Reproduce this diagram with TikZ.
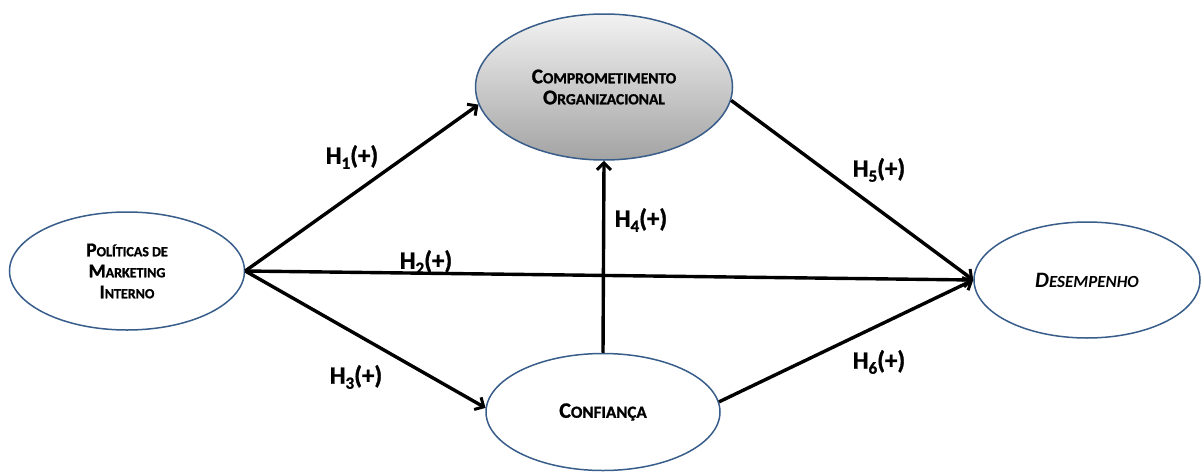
\documentclass[tikz,border=0pt]{standalone}
\usepackage{fontspec}
\setmainfont{Carlito}[BoldFeatures={FakeBold=1.2}]
\usetikzlibrary{shapes.geometric,arrows.meta}

% fake small caps: a tall initial followed by smaller capitals
\newcommand\capinit[2]{{\fontsize{#1}{#1}\selectfont #2}}
% hypothesis label with a lowered index
\newcommand\hyp[1]{H\raisebox{-5pt}{\fontsize{17}{17}\selectfont #1}(+)}

\definecolor{rimblue}{RGB}{56,93,138}

\tikzset{
  construct/.style={ellipse, draw=rimblue, line width=1.5pt, fill=white,
    font=\bfseries\fontsize{15.5}{21}\selectfont, align=center, inner sep=0pt},
  path/.style={line width=3.4pt, draw=black,
    -{Straight Barb[length=7pt,width=14pt,line width=3pt]}},
  hlabel/.style={font=\bfseries\fontsize{25}{25}\selectfont, inner sep=0pt}
}

\begin{document}
\begin{tikzpicture}[x=1pt,y=-1pt]
  \useasboundingbox (0,0) rectangle (1204,471);

  % constructs
  \node[construct, minimum width=257pt, minimum height=146pt,
        top color=black!5, bottom color=black!36, draw=rimblue]
    (comp) at (604,87) {\capinit{21}{C}OMPROMETIMENTO\\\capinit{21}{O}RGANIZACIONAL};
  \node[construct, minimum width=235pt, minimum height=118pt,
        font=\bfseries\fontsize{14}{21}\selectfont]
    (pol) at (127,271) {\capinit{19.5}{P}OLÍTICAS DE\\\capinit{19.5}{M}ARKETING\\\capinit{19.5}{I}NTERNO};
  \node[construct, minimum width=226pt, minimum height=116pt,
        font=\bfseries\itshape\fontsize{17}{22}\selectfont]
    (des) at (1087,280) {\capinit{22}{D}ESEMPENHO};
  \node[construct, minimum width=234pt, minimum height=117pt,
        font=\bfseries\fontsize{17}{22}\selectfont]
    (conf) at (603,412) {\capinit{22}{C}ONFIANÇA};

  % hypothesised paths
  \draw[path] (pol.east) -- (comp.188);
  \draw[path] (pol.east) -- (des.west);
  \draw[path] (pol.east) -- (conf.178);
  \draw[path] (conf.north) -- (comp.south);
  \draw[path] (comp.-6) -- (des.west);
  \draw[path] (conf.5) -- (des.west);

  % path labels
  \node[hlabel] (h1) at (352,157) {\hyp{1}};
  \node[hlabel] (h2) at (426,262) {\hyp{2}};
  \node[hlabel] (h3) at (356,377) {\hyp{3}};
  \node[hlabel] (h4) at (641,220) {\hyp{4}};
  \node[hlabel] (h5) at (879,170) {\hyp{5}};
  \node[hlabel] (h6) at (879,362) {\hyp{6}};
\end{tikzpicture}
\end{document}
